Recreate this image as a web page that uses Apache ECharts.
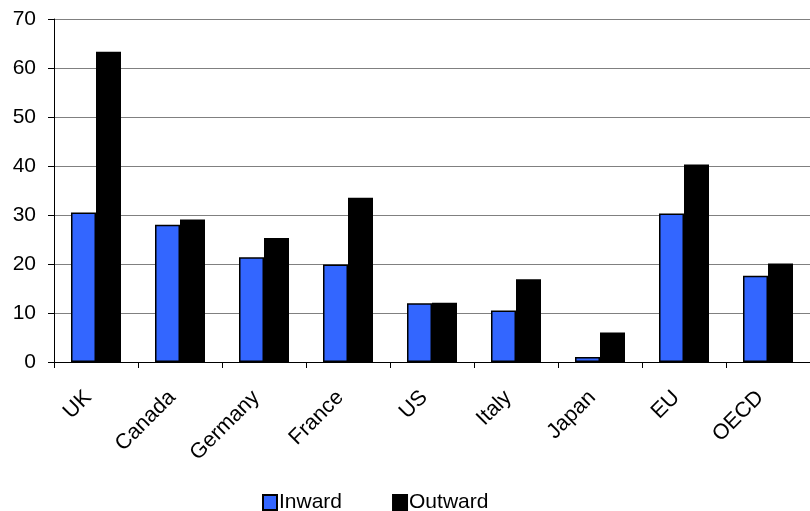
<!DOCTYPE html>
<html>
<head>
<meta charset="utf-8">
<script src="https://cdn.jsdelivr.net/npm/echarts@6/dist/echarts.min.js"></script>
<style>
  html, body { margin: 0; padding: 0; background: #fff; }
  #chart { width: 810px; height: 511px; }
</style>
</head>
<body>
<div id="chart"></div>
<script>
// Categories and investment shares (%) by direction
var categories = ['UK', 'Canada', 'Germany', 'France', 'US', 'Italy', 'Japan', 'EU', 'OECD'];
var inwardValues = [30.5, 28.0, 21.4, 19.9, 12.0, 10.5, 1.0, 30.3, 17.6];
var outwardValues = [63.3, 29.1, 25.3, 33.5, 12.1, 16.9, 6.0, 40.3, 20.1];
var yTicks = { min: 0, max: 70, interval: 10 };

var font = 'Liberation Sans, Arial, sans-serif';
var chart = echarts.init(document.getElementById('chart'), null, { renderer: 'canvas' });

chart.setOption({
  animation: false,
  backgroundColor: '#ffffff',
  grid: { left: 54, top: 19, right: -5, bottom: 149, containLabel: false },
  legend: {
    data: ['Inward', 'Outward'],
    left: 257,
    top: 487,
    itemWidth: 14,
    itemHeight: 15,
    itemGap: 50,
    icon: 'rect',
    textStyle: { fontFamily: font, fontSize: 21, color: '#000', padding: [0, 0, 0, -3] }
  },
  xAxis: {
    type: 'category',
    data: categories,
    boundaryGap: true,
    axisLine: { show: true, lineStyle: { color: '#000', width: 1 } },
    axisTick: { show: true, length: 6, alignWithLabel: false, lineStyle: { color: '#000' } },
    axisLabel: {
      rotate: 45,
      margin: 40,
      verticalAlign: 'bottom',
      fontFamily: font,
      fontSize: 21.5,
      color: '#000',
      interval: 0
    },
    splitLine: { show: false }
  },
  yAxis: {
    type: 'value',
    min: yTicks.min,
    max: yTicks.max,
    interval: yTicks.interval,
    axisLine: { show: true, lineStyle: { color: '#000', width: 1 } },
    axisTick: { show: true, length: 6, lineStyle: { color: '#000' } },
    axisLabel: { fontFamily: font, fontSize: 21, color: '#000', margin: 18 },
    splitLine: { show: true, lineStyle: { color: '#808080', width: 1 } }
  },
  series: [
    {
      name: 'Inward',
      type: 'bar',
      data: inwardValues,
      barWidth: 25,
      barGap: '0%',
      itemStyle: { color: '#3366ff', borderColor: '#000', borderWidth: 1.5 }
    },
    {
      name: 'Outward',
      type: 'bar',
      data: outwardValues,
      barWidth: 25,
      barGap: '0%',
      itemStyle: { color: '#000000', borderColor: '#000', borderWidth: 1.5 }
    }
  ]
});
</script>
</body>
</html>
